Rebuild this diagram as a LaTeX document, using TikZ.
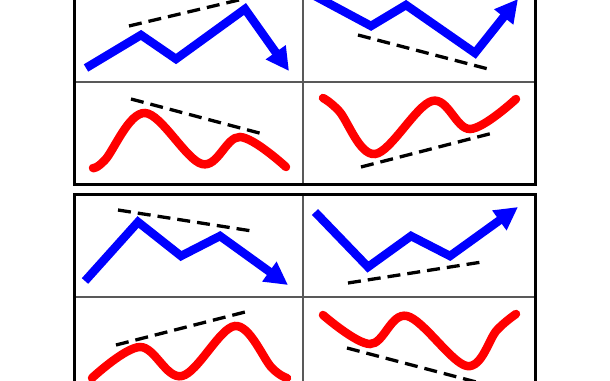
\documentclass[tikz,border=0pt]{standalone}
\usetikzlibrary{arrows.meta}
\begin{document}
\begin{tikzpicture}[x=1pt,y=-1pt,
  bluepath/.style={draw=blue, line width=8.5pt, line join=miter, -{Triangle[length=23pt,width=23pt]}},
  redcurve/.style={draw=red, line width=8.5pt, line cap=round},
  trendline/.style={draw=black, line width=3.3pt, dash pattern=on 13pt off 7pt},
  frame/.style={draw=black, line width=3pt},
  divider/.style={draw=black!65, line width=1.3pt}]
\useasboundingbox (0,0) rectangle (610,380);
\clip (0,0) rectangle (610,380);
\fill[white] (0,0) rectangle (610,380);
% top box
\draw[divider] (303,-21) -- (303,184);
\draw[divider] (74,82) -- (535,82);
\draw[frame] (74,-21) rectangle (535,184);
% bottom box
\draw[divider] (303,194) -- (303,400);
\draw[divider] (74,297) -- (535,297);
\draw[frame] (74,194) rectangle (535,400);
% top-left
\draw[trendline] (129,26) -- (243,-1);
\draw[bluepath] (86,68) -- (141,35) -- (176,59) -- (245,9) -- (289,71);
\draw[trendline] (131,99) -- (263,134);
\draw[redcurve] plot[smooth, tension=0.6] coordinates {(93,168) (105,160) (145,113) (202,164) (240,137) (286,167)};
% top-right
\draw[trendline] (358,35) -- (492,70);
\draw[bluepath] (315,-4) -- (371,26) -- (406,5) -- (475,53) -- (518,-1);
\draw[trendline] (361,167) -- (493,133);
\draw[redcurve] plot[smooth, tension=0.6] coordinates {(323,98) (339,111) (375,154) (432,101) (470,129) (516,99)};
% bottom-left
\draw[trendline] (118,210) -- (252,231);
\draw[bluepath] (85,281) -- (138,222) -- (181,256) -- (220,236) -- (288,285);
\draw[trendline] (116,345) -- (249,311);
\draw[redcurve] plot[smooth, tension=0.6] coordinates {(92,378) (140,347) (182,376) (235,326) (272,368) (287,378)};
% bottom-right
\draw[trendline] (348,283) -- (482,262);
\draw[bluepath] (315,212) -- (368,267) -- (411,236) -- (450,256) -- (518,207);
\draw[trendline] (347,348) -- (480,383);
\draw[redcurve] plot[smooth, tension=0.6] coordinates {(323,315) (370,344) (407,316) (467,366) (497,330) (516,314)};
\end{tikzpicture}
\end{document}
